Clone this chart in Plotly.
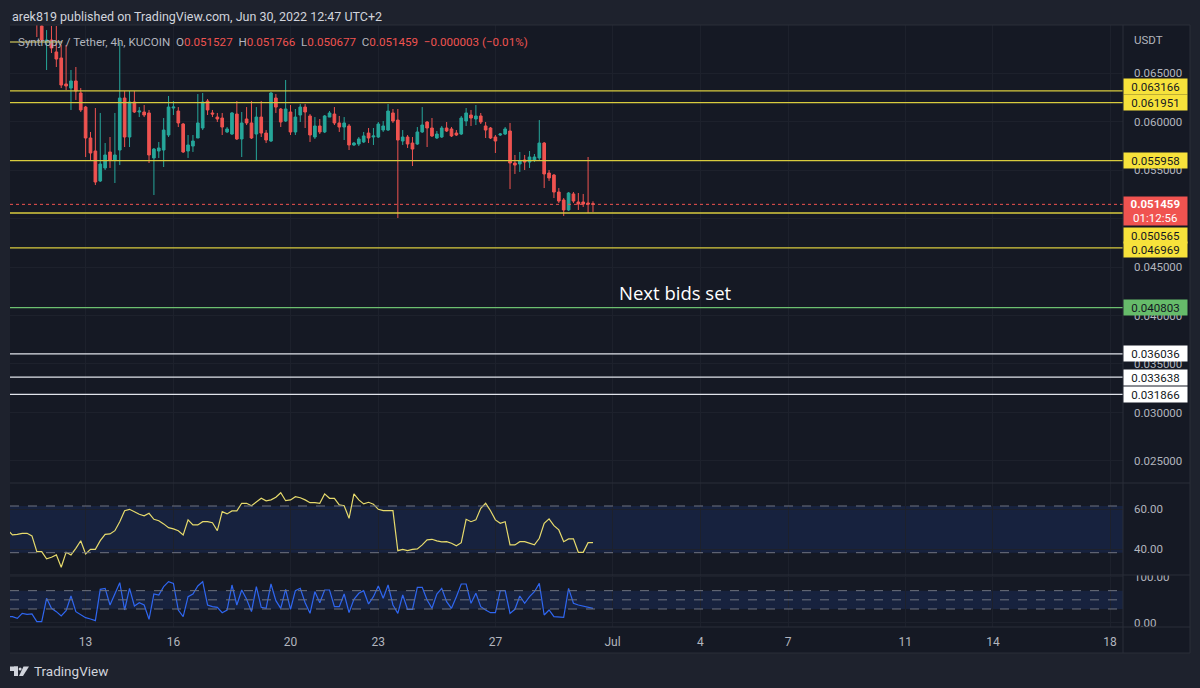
import pandas as pd
import plotly.graph_objects as go

# ---------------- data (4h bars, UTC+2), oldest first ----------------
LAST_BAR = "2022-06-30 10:00"
OPEN = [0.0752, 0.0745, 0.0737, 0.0741, 0.0732, 0.0727,
        0.0716, 0.06985, 0.06820, 0.06840, 0.06717, 0.06655, 0.06387, 0.06345, 0.06418, 0.06294,
        0.06149, 0.05830, 0.05696, 0.05387, 0.05521, 0.05686, 0.05603, 0.05706, 0.06242, 0.05840,
        0.06201, 0.06098, 0.06098, 0.06088, 0.05624, 0.05696, 0.05706, 0.05861, 0.06139, 0.06108,
        0.05974, 0.05696, 0.05747, 0.05830, 0.05933, 0.06211, 0.06088, 0.06046, 0.06036, 0.05892,
        0.05871, 0.06077, 0.05820, 0.06026, 0.05985, 0.05871, 0.06046, 0.05881, 0.05799, 0.06242,
        0.06129, 0.06005, 0.06098, 0.05892, 0.06067, 0.06149, 0.06057, 0.05840, 0.05954, 0.05892,
        0.06046, 0.06077, 0.05985, 0.05943, 0.05954, 0.05758, 0.05768, 0.05789, 0.05881, 0.05840,
        0.05840, 0.05912, 0.05912, 0.06088, 0.06015, 0.05799, 0.05840, 0.05778, 0.05768, 0.05892,
        0.05995, 0.05933, 0.05830, 0.05840, 0.05933, 0.05923, 0.05881, 0.05871, 0.06005, 0.06067,
        0.06026, 0.06057, 0.05954, 0.05933, 0.05840, 0.05861, 0.05871, 0.05902, 0.05572, 0.05562,
        0.05603, 0.05582, 0.05603, 0.05624, 0.05778, 0.05469, 0.05448, 0.05273, 0.05191, 0.05088,
        0.05253, 0.05170, 0.05170, 0.05160, 0.051527]
HIGH = [0.0760, 0.0750, 0.0746, 0.0744, 0.0738, 0.0731,
        0.0720, 0.0703, 0.06943, 0.06985, 0.06985, 0.06789, 0.06789, 0.06531, 0.06562, 0.06345,
        0.06160, 0.05892, 0.06139, 0.06088, 0.05778, 0.05840, 0.06088, 0.06820, 0.06314, 0.06314,
        0.06314, 0.06149, 0.06170, 0.06119, 0.05727, 0.05789, 0.06036, 0.06263, 0.06211, 0.06149,
        0.05985, 0.05861, 0.05861, 0.06283, 0.06294, 0.06232, 0.06119, 0.06088, 0.06088, 0.05943,
        0.06098, 0.06211, 0.06098, 0.06149, 0.06211, 0.06149, 0.06211, 0.05912, 0.06304, 0.06283,
        0.06139, 0.06428, 0.06170, 0.06129, 0.06180, 0.06180, 0.06077, 0.06046, 0.06026, 0.06067,
        0.06108, 0.06149, 0.06057, 0.06046, 0.05974, 0.05789, 0.05840, 0.05892, 0.05933, 0.05933,
        0.05995, 0.06005, 0.06180, 0.06129, 0.06129, 0.05912, 0.05861, 0.05840, 0.05943, 0.06149,
        0.06005, 0.06036, 0.05902, 0.05954, 0.05995, 0.05943, 0.05912, 0.06057, 0.06139, 0.06119,
        0.06170, 0.06088, 0.05995, 0.05943, 0.05861, 0.05881, 0.05943, 0.05985, 0.05655, 0.05686,
        0.05655, 0.05696, 0.05665, 0.06015, 0.05789, 0.05500, 0.05459, 0.05314, 0.05211, 0.05273,
        0.05273, 0.05263, 0.05253, 0.05634, 0.051766]
LOW = [0.0741, 0.0733, 0.0731, 0.0728, 0.0722, 0.0712,
       0.06871, 0.06820, 0.06531, 0.06706, 0.06562, 0.06345, 0.06325, 0.06119, 0.06222, 0.06098,
       0.05634, 0.05603, 0.05345, 0.05376, 0.05500, 0.05521, 0.05366, 0.05551, 0.05737, 0.05737,
       0.06088, 0.06046, 0.06046, 0.05572, 0.05242, 0.05624, 0.05531, 0.05840, 0.06067, 0.05943,
       0.05675, 0.05624, 0.05686, 0.05830, 0.05912, 0.06067, 0.06046, 0.05995, 0.05861, 0.05881,
       0.05861, 0.05809, 0.05634, 0.05964, 0.05820, 0.05603, 0.05840, 0.05778, 0.05789, 0.06088,
       0.05943, 0.05995, 0.05861, 0.05861, 0.05995, 0.05933, 0.05789, 0.05820, 0.05871, 0.05881,
       0.06046, 0.05964, 0.05892, 0.05809, 0.05706, 0.05748, 0.05747, 0.05778, 0.05778, 0.05758,
       0.05830, 0.05892, 0.05902, 0.05985, 0.05005, 0.05758, 0.05727, 0.05541, 0.05758, 0.05882,
       0.05737, 0.05840, 0.05820, 0.05830, 0.05892, 0.05840, 0.05851, 0.05861, 0.05954, 0.05954,
       0.05964, 0.05974, 0.05830, 0.05820, 0.05675, 0.05851, 0.05861, 0.05304, 0.05459, 0.05480,
       0.05500, 0.05521, 0.05582, 0.05603, 0.05314, 0.05387, 0.05211, 0.05160, 0.05026, 0.05077,
       0.05160, 0.05088, 0.05119, 0.05057, 0.050677]
CLOSE = [0.0745, 0.0737, 0.0741, 0.0732, 0.0727, 0.0716,
         0.0706, 0.06840, 0.06840, 0.06758, 0.06644, 0.06376, 0.06366, 0.06418, 0.06314, 0.06119,
         0.05830, 0.05675, 0.05376, 0.05562, 0.05655, 0.05603, 0.05655, 0.06242, 0.05840, 0.06201,
         0.06098, 0.06108, 0.06067, 0.05655, 0.05716, 0.05727, 0.05912, 0.06149, 0.06149, 0.05985,
         0.05686, 0.05758, 0.05799, 0.05985, 0.06201, 0.06119, 0.06077, 0.06026, 0.05943, 0.05923,
         0.06088, 0.05820, 0.05985, 0.05985, 0.05830, 0.06046, 0.05881, 0.05809, 0.06294, 0.06149,
         0.05995, 0.06129, 0.05892, 0.06046, 0.06149, 0.06098, 0.05861, 0.05954, 0.05892, 0.06057,
         0.06088, 0.05985, 0.05943, 0.05985, 0.05758, 0.05778, 0.05820, 0.05851, 0.05830, 0.05851,
         0.05974, 0.05954, 0.06108, 0.06005, 0.05809, 0.05840, 0.05768, 0.05716, 0.05892, 0.05964,
         0.05933, 0.05851, 0.05871, 0.05933, 0.05902, 0.05851, 0.05861, 0.06036, 0.06088, 0.06036,
         0.06057, 0.05995, 0.05912, 0.05830, 0.05799, 0.05871, 0.05923, 0.05572, 0.05551, 0.05593,
         0.05582, 0.05634, 0.05634, 0.05778, 0.05459, 0.05418, 0.05273, 0.05180, 0.05088, 0.05263,
         0.05180, 0.05149, 0.05149, 0.05149, 0.051459]
RSI = [49.7, 47.2, 47.5, 48.0, 48.0, 46.7, 38.8, 38.8, 35.2, 36.0, 37.2, 31.0, 38.5, 37.2, 40.5,
       44.3, 37.7, 40.0, 40.0, 44.3, 47.5, 47.7, 49.3, 53.8, 59.3, 60.0, 58.8, 57.5, 56.7, 58.0,
       55.0, 54.3, 52.7, 50.8, 50.2, 49.3, 47.2, 54.7, 52.2, 52.2, 53.8, 53.8, 53.3, 49.3, 58.8,
       57.7, 59.2, 59.2, 63.0, 63.0, 61.8, 63.8, 65.5, 64.2, 64.7, 66.0, 68.3, 64.3, 64.7, 66.3,
       65.8, 64.7, 63.3, 63.3, 63.0, 67.7, 65.5, 65.5, 62.2, 61.8, 55.5, 67.7, 64.7, 62.7, 63.5,
       62.5, 60.0, 59.3, 59.3, 59.3, 39.3, 40.0, 39.3, 40.0, 40.2, 42.2, 44.7, 45.0, 44.2, 43.7,
       43.8, 43.0, 41.8, 43.3, 55.0, 53.8, 54.7, 60.5, 63.0, 59.3, 54.7, 53.0, 53.8, 42.2, 42.2,
       43.8, 43.8, 43.0, 42.2, 45.5, 53.0, 55.2, 51.8, 49.7, 43.8, 45.2, 45.2, 38.5, 38.5, 43.3,
       43.3]
STOCH = [13.3, 13.3, 9.6, 20.5, 18.4, 19.1, 2.4, 2.4, 53.3, 31.5, 24.2, 14.7, 26.4, 58.4, 24.2,
         16.9, 11.1, 8.2, 4.6, 72.9, 75.1, 38.7, 64.2, 87.5, 27.8, 75.1, 36.5, 43.8, 38.7, 7.5,
         62.7, 60.5, 78.7, 89.6, 86.0, 27.8, 13.3, 56.9, 62.7, 80.2, 89.6, 38.7, 35.1, 33.6, 22.0,
         27.8, 82.4, 38.7, 71.5, 51.1, 24.2, 78.7, 33.6, 31.5, 84.6, 48.2, 31.5, 72.9, 29.3, 70.0,
         75.1, 43.8, 20.5, 67.8, 43.8, 71.5, 71.5, 35.1, 35.1, 62.7, 22.0, 51.1, 64.2, 70.0, 40.9,
         56.9, 80.2, 53.3, 82.4, 38.7, 20.5, 60.5, 29.3, 29.3, 77.3, 77.3, 49.6, 31.5, 62.7, 75.1,
         46.0, 31.5, 56.9, 84.6, 84.6, 42.4, 64.2, 35.1, 27.8, 22.0, 22.0, 70.0, 70.0, 20.5, 29.3,
         58.4, 42.4, 56.9, 67.8, 86.0, 16.9, 27.8, 13.3, 11.8, 11.8, 75.1, 42.4, 38.7, 36.5, 33.6,
         31.5]

YELLOW_LEVELS = [0.063166, 0.061951, 0.055958, 0.050565, 0.046969]
YELLOW_TAG_SHIFT = [4, 0, 0, -22, -2]
GREEN_LEVELS = [0.040803]
WHITE_LEVELS = [0.036036, 0.033638, 0.031866]
LAST_PRICE = 0.051459
COUNTDOWN = "01:12:56"
TOP_SEGMENT = dict(price=0.0682, start="2022-06-10 06:00", end="2022-06-12 06:45")

PRICE_TICKS = [0.025, 0.030, 0.035, 0.040, 0.045, 0.050, 0.055, 0.060, 0.065]
DATE_TICKS = ["2022-06-13 02:00", "2022-06-16 02:00", "2022-06-20 02:00", "2022-06-23 02:00",
              "2022-06-27 02:00", "2022-07-01 02:00", "2022-07-04 02:00", "2022-07-07 02:00",
              "2022-07-11 02:00", "2022-07-14 02:00", "2022-07-18 02:00"]
DATE_LABELS = ["13", "16", "20", "23", "27", "Jul", "4", "7", "11", "14", "18"]
RSI_TICKS = [40, 60]
RSI_BANDS = [38.3, 61.65]
STOCH_TICKS = [0, 100]
STOCH_BANDS = [30, 50, 70]

# ---------------- style ----------------
W, H = 1200, 688
L, R, T, B = 10, 1123, 25, 627          # plot area in px
FRAME_R, FRAME_B = 1190, 653
OUTER = "#1e222d"
CHART = "#151924"
GRID = "#1d212c"
SEP = "#2a2e39"
TXT = "#b2b5be"
UP, DOWN = "#26a69a", "#ef5350"
YEL_LINE, YEL_TAG = "#d8cb3e", "#f7e23b"
FONT = "Roboto, sans-serif"


def fx(px):
    return (px - L) / (R - L)


def fy(py):
    return (B - py) / (B - T)


times = pd.date_range(end=LAST_BAR, periods=len(OPEN), freq="4h")

fig = go.Figure()
fig.add_trace(go.Candlestick(
    x=times, open=OPEN, high=HIGH, low=LOW, close=CLOSE,
    increasing=dict(line=dict(color=UP, width=1), fillcolor=UP),
    decreasing=dict(line=dict(color=DOWN, width=1), fillcolor=DOWN),
    whiskerwidth=0, xaxis="x", yaxis="y", hoverinfo="skip", showlegend=False))
fig.add_trace(go.Scatter(x=times, y=RSI, mode="lines", line=dict(color="#e6da6c", width=1.2),
                         xaxis="x", yaxis="y2", hoverinfo="skip", showlegend=False))
fig.add_trace(go.Scatter(x=times, y=STOCH, mode="lines", line=dict(color="#2f66f0", width=1.2),
                         xaxis="x", yaxis="y3", hoverinfo="skip", showlegend=False))

shapes = []
# chart background frame (includes price axis and time axis)
shapes.append(dict(type="rect", xref="paper", yref="paper", x0=fx(L), x1=fx(FRAME_R),
                   y0=fy(FRAME_B), y1=fy(T), fillcolor=CHART, line=dict(width=0), layer="below"))
# indicator bands
shapes.append(dict(type="rect", xref="paper", yref="y2", x0=0, x1=1, y0=RSI_BANDS[0], y1=RSI_BANDS[1],
                   fillcolor="rgba(38,100,240,0.13)", line=dict(width=0), layer="below"))
shapes.append(dict(type="rect", xref="paper", yref="y3", x0=0, x1=1, y0=STOCH_BANDS[0], y1=STOCH_BANDS[-1],
                   fillcolor="rgba(38,100,240,0.13)", line=dict(width=0), layer="below"))
for v in RSI_BANDS:
    shapes.append(dict(type="line", xref="paper", yref="y2", x0=0, x1=1, y0=v, y1=v,
                       line=dict(color="#6f7380", width=1, dash="dash")))
for v in STOCH_BANDS:
    shapes.append(dict(type="line", xref="paper", yref="y3", x0=0, x1=1, y0=v, y1=v,
                       line=dict(color="#6f7380", width=1, dash="dash")))
# horizontal levels
for v in YELLOW_LEVELS:
    shapes.append(dict(type="line", xref="paper", yref="y", x0=0, x1=1, y0=v, y1=v,
                       line=dict(color=YEL_LINE, width=1.3)))
for v in GREEN_LEVELS:
    shapes.append(dict(type="line", xref="paper", yref="y", x0=0, x1=1, y0=v, y1=v,
                       line=dict(color="#6cc070", width=1.3)))
for v in WHITE_LEVELS:
    shapes.append(dict(type="line", xref="paper", yref="y", x0=0, x1=1, y0=v, y1=v,
                       line=dict(color="#e0e3ea", width=1.3)))
shapes.append(dict(type="line", xref="paper", yref="y", x0=0, x1=1, y0=LAST_PRICE, y1=LAST_PRICE,
                   line=dict(color="#f05350", width=1, dash="dot")))
shapes.append(dict(type="line", xref="x", yref="y", x0=TOP_SEGMENT["start"], x1=TOP_SEGMENT["end"],
                   y0=TOP_SEGMENT["price"], y1=TOP_SEGMENT["price"],
                   line=dict(color="#aaa552", width=1.5)))
# cover the upper half of the stoch "100.00" label (clipped by pane border)
shapes.append(dict(type="rect", xref="paper", yref="paper", x0=fx(R + 1), x1=fx(FRAME_R - 1),
                   y0=fy(575), y1=fy(565), fillcolor=CHART, line=dict(width=0), layer="above"))
# pane separators and frame lines
for py in (483, 575, B, FRAME_B, T):
    shapes.append(dict(type="line", xref="paper", yref="paper", x0=fx(L), x1=fx(FRAME_R), y0=fy(py), y1=fy(py),
                       line=dict(color=SEP, width=1), layer="above"))
shapes.append(dict(type="line", xref="paper", yref="paper", x0=1, x1=1, y0=fy(FRAME_B), y1=fy(T),
                   line=dict(color=SEP, width=1), layer="above"))
shapes.append(dict(type="line", xref="paper", yref="paper", x0=fx(FRAME_R), x1=fx(FRAME_R), y0=fy(FRAME_B),
                   y1=fy(T), line=dict(color=SEP, width=1), layer="above"))
# TradingView footer logo
LOGO = "#d1d4dc"
shapes.append(dict(type="rect", xref="paper", yref="paper", x0=fx(10), x1=fx(18), y0=fy(671), y1=fy(666.5),
                   fillcolor=LOGO, line=dict(width=0)))
shapes.append(dict(type="rect", xref="paper", yref="paper", x0=fx(14), x1=fx(18), y0=fy(676), y1=fy(666.5),
                   fillcolor=LOGO, line=dict(width=0)))
shapes.append(dict(type="circle", xref="paper", yref="paper", x0=fx(18.6), x1=fx(21.6), y0=fy(670.5),
                   y1=fy(667.5), fillcolor=LOGO, line=dict(width=0)))
shapes.append(dict(type="path", xref="paper", yref="paper",
                   path="M {} {} L {} {} L {} {} L {} {} Z".format(fx(23.5), fy(666.5), fx(29), fy(666.5),
                                                                    fx(23), fy(676), fx(19), fy(676)),
                   fillcolor=LOGO, line=dict(width=0)))

ann = []
ann.append(dict(xref="paper", yref="paper", x=fx(10), y=fy(17), xanchor="left", yanchor="middle",
                text="arek819 published on TradingView.com, Jun 30, 2022 12:47 UTC+2", showarrow=False,
                font=dict(family=FONT, size=12.5, color="#d1d4dc")))
red = "#ef5350"
sp = "\u00a0\u00a0"
legend = ("Syntropy / Tether, 4h, KUCOIN" + sp +
          "O<span style='color:%s'>0.051527</span>" % red + sp +
          "H<span style='color:%s'>0.051766</span>" % red + sp +
          "L<span style='color:%s'>0.050677</span>" % red + sp +
          "C<span style='color:%s'>0.051459</span>" % red + sp +
          "<span style='color:%s'>\u22120.000003 (\u22120.01%%)</span>" % red)
ann.append(dict(xref="paper", yref="paper", x=fx(16), y=fy(42), xanchor="left", yanchor="middle",
                text=legend, showarrow=False, font=dict(family=FONT, size=11.6, color=TXT)))
ann.append(dict(xref="paper", yref="paper", x=fx(1132), y=fy(40), xanchor="left", yanchor="middle",
                text="USDT", showarrow=False, font=dict(family=FONT, size=11.5, color=TXT)))


def tag(price, text, bg, fg, shift=0, h=13):
    return dict(xref="paper", yref="y", x=1.0, y=price, xanchor="left", yanchor="middle", yshift=shift,
                text=text, showarrow=False, bgcolor=bg, width=61, height=h, align="center", borderpad=1,
                font=dict(family=FONT, size=11.5, color=fg))


for v, s in zip(YELLOW_LEVELS, YELLOW_TAG_SHIFT):
    ann.append(tag(v, "%.6f" % v, YEL_TAG, "#131722", s))
for v in GREEN_LEVELS:
    ann.append(tag(v, "%.6f" % v, "#66bb6a", "#131722"))
for v in WHITE_LEVELS:
    ann.append(tag(v, "%.6f" % v, "#ffffff", "#131722"))
ann.append(tag(LAST_PRICE, "<b>%.6f</b><br>%s" % (LAST_PRICE, COUNTDOWN), "#f05350", "#ffffff", -7, 26))
ann.append(dict(xref="x", yref="y", x="2022-07-03 06:00", y=0.04242, xanchor="center", yanchor="middle",
                text="Next bids set", showarrow=False, font=dict(family="Open Sans, sans-serif", size=18.5,
                                                                 color="#ffffff")))
ann.append(dict(xref="paper", yref="paper", x=fx(32), y=fy(671), xanchor="left", yanchor="middle",
                text="TradingView", showarrow=False, font=dict(family=FONT, size=13.5, color="#d1d4dc")))

tickfont = dict(family=FONT, size=11.5, color=TXT)
fig.update_layout(
    width=W, height=H, autosize=False,
    margin=dict(l=L, r=W - R, t=T, b=H - B, pad=0),
    paper_bgcolor=OUTER, plot_bgcolor=CHART,
    showlegend=False, boxgap=0.3, boxgroupgap=0.22,
    shapes=shapes, annotations=ann,
    xaxis=dict(type="date", range=["2022-06-10 12:00", "2022-07-18 12:36"], anchor="y3",
               tickvals=DATE_TICKS, ticktext=DATE_LABELS, tickfont=dict(family=FONT, size=12, color=TXT),
               showgrid=True, gridcolor=GRID, gridwidth=1, zeroline=False, showline=False, ticks="",
               ticklabelstandoff=6, rangeslider=dict(visible=False), fixedrange=True),
    yaxis=dict(domain=[fy(483), 1], range=[0.02273, 0.06995], side="right", anchor="x",
               tickvals=PRICE_TICKS, ticktext=["%.6f" % v for v in PRICE_TICKS], tickfont=tickfont,
               showgrid=True, gridcolor=GRID, zeroline=False, showline=False, ticks="",
               ticklabelstandoff=10),
    yaxis2=dict(domain=[fy(575), fy(483)], range=[27.15, 73.15], side="right", anchor="x",
                tickvals=RSI_TICKS, ticktext=["%.2f" % v for v in RSI_TICKS], tickfont=tickfont,
                showgrid=True, gridcolor=GRID, zeroline=False, showline=False, ticks="",
                ticklabelstandoff=10),
    yaxis3=dict(domain=[0, fy(575)], range=[-9.3, 104.2], side="right", anchor="x",
                tickvals=STOCH_TICKS, ticktext=["%.2f" % v for v in STOCH_TICKS], tickfont=tickfont,
                showgrid=True, gridcolor=GRID, zeroline=False, showline=False, ticks="",
                ticklabelstandoff=10),
)

fig.write_html("out.html", config={"displayModeBar": False},
               post_script="document.body.style.margin='0px';document.body.style.overflow='hidden';")
